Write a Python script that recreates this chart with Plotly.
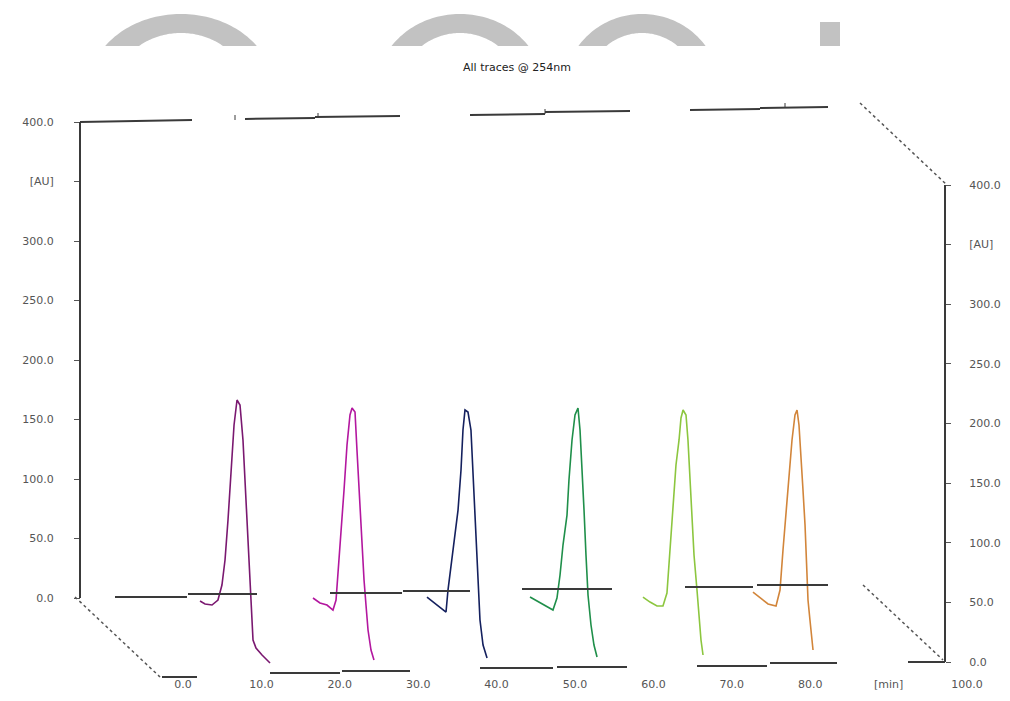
import numpy as np
import plotly.graph_objects as go

W, H = 1010, 701

# ---------------- data ----------------
run_names = ["Run 1", "Run 2", "Run 3", "Run 4", "Run 5", "Run 6"]

run1_time = [2.17, 2.81, 3.70, 4.46, 4.97, 5.36, 5.74, 6.12, 6.51, 6.89, 7.27, 7.65, 8.04, 8.29, 8.55, 8.80, 8.93, 9.31, 10.08, 11.10]
run1_au = [-2.5, -5.0, -5.9, -1.7, 10.9, 31.9, 65.5, 107.6, 145.4, 166.4, 162.2, 132.8, 82.4, 40.3, 6.7, -14.3, -35.3, -42.0, -47.9, -54.6]

run2_time = [16.58, 17.47, 18.37, 19.13, 19.52, 19.77, 20.15, 20.54, 20.92, 21.30, 21.56, 21.94, 22.19, 22.45, 22.83, 23.09, 23.34, 23.60, 23.98, 24.36]
run2_au = [0.0, -4.2, -5.9, -10.1, -1.7, 19.3, 57.1, 90.8, 128.6, 153.8, 159.7, 156.3, 124.4, 90.8, 48.7, 15.1, -5.9, -26.9, -43.7, -52.1]

run3_time = [31.12, 31.89, 32.78, 33.55, 33.80, 34.18, 34.57, 35.08, 35.46, 35.71, 35.97, 36.35, 36.73, 36.99, 37.24, 37.50, 37.76, 37.88, 38.27, 38.78]
run3_au = [0.8, -3.4, -8.4, -11.8, 6.7, 27.7, 48.7, 73.9, 107.6, 141.2, 158.0, 156.3, 141.2, 107.6, 65.5, 31.9, 6.7, -18.5, -39.5, -50.4]

run4_time = [44.26, 45.15, 46.17, 47.19, 47.70, 48.09, 48.47, 48.98, 49.23, 49.62, 50.00, 50.38, 50.64, 50.89, 51.15, 51.40, 51.66, 52.04, 52.42, 52.81]
run4_au = [0.8, -2.5, -6.7, -10.1, 0.0, 19.3, 44.5, 69.7, 99.2, 132.8, 153.8, 159.7, 141.2, 111.8, 73.9, 36.1, 2.5, -22.7, -39.5, -49.6]

run5_time = [58.67, 59.57, 60.46, 61.22, 61.73, 62.12, 62.50, 62.88, 63.27, 63.52, 63.78, 64.16, 64.41, 64.67, 64.92, 65.18, 65.56, 65.82, 66.07, 66.33]
run5_au = [0.8, -3.4, -6.7, -6.7, 4.2, 40.3, 82.4, 111.8, 132.8, 151.3, 158.0, 153.8, 132.8, 99.2, 65.5, 36.1, 6.7, -14.3, -35.3, -47.9]

run6_time = [72.70, 73.60, 74.62, 75.64, 76.15, 76.53, 76.91, 77.30, 77.68, 78.06, 78.32, 78.57, 78.83, 79.08, 79.34, 79.59, 79.72, 79.97, 80.23, 80.36]
run6_au = [5.0, 0.0, -5.0, -6.7, 6.7, 40.3, 69.7, 103.4, 132.8, 153.8, 158.0, 145.4, 120.2, 90.8, 61.3, 23.5, -1.7, -18.5, -35.3, -43.7]

x_tickvals = [0, 10, 20, 30, 40, 50, 60, 70, 80, 90, 100]
x_ticktext = ["0.0", "10.0", "20.0", "30.0", "40.0", "50.0", "60.0", "70.0", "80.0", "[min]", "100.0"]
y_tickvals = [0, 50, 100, 150, 200, 250, 300, 350, 400]
y_ticktext = ["0.0", "50.0", "100.0", "150.0", "200.0", "250.0", "300.0", "[AU]", "400.0"]

title_text = "All traces @ 254nm"

# ---------------- styling / layout ----------------
run_colors = ["#7a1870", "#b3179f", "#14205e", "#1f8f4a", "#8cc63f", "#d2853a"]
TXT = "#555555"
FONT = "DejaVu Sans"

# pixel scale of the axes (used only to set ranges)
X0_PX, X_PX_PER = 183.0, 7.84
Y0_PX, Y_PX_PER = 598.0, 1.19
Y2_0_PX, Y2_PX_PER = 662.0, 1.1925

def px(x, y):
    return x / W, 1 - y / H

fig = go.Figure()
runs = [(run1_time, run1_au), (run2_time, run2_au), (run3_time, run3_au),
        (run4_time, run4_au), (run5_time, run5_au), (run6_time, run6_au)]
for name, (t, a), c in zip(run_names, runs, run_colors):
    fig.add_trace(go.Scatter(x=t, y=a, mode="lines", name=name,
                             line=dict(color=c, width=1.6), showlegend=False,
                             cliponaxis=False))

# invisible trace to activate the right axis
fig.add_trace(go.Scatter(x=[None], y=[None], yaxis="y2", showlegend=False))

shapes = []
# frame edges (pseudo 3-D box), pixel positions
frame_solid = [
    [(80, 122), (192, 120)], [(245, 119), (315, 118)], [(315, 117), (400, 116)],
    [(470, 115), (545, 114)], [(545, 112), (630, 111)],
    [(690, 110), (760, 109)], [(760, 108), (828, 107)],
    [(115, 597), (187, 597)], [(188, 594), (257, 594)],
    [(330, 593), (402, 593)], [(403, 591), (470, 591)],
    [(522, 589), (612, 589)],
    [(685, 587), (753, 587)], [(757, 585), (828, 585)],
    [(162, 677), (197, 677)], [(270, 673), (340, 673)], [(342, 671), (410, 671)],
    [(480, 668), (553, 668)], [(557, 667), (627, 667)],
    [(697, 666), (767, 666)], [(770, 663), (837, 663)], [(908, 662), (945, 662)],
    [(80, 122), (80, 598)], [(945, 185), (945, 662)],
]
for (a, b) in frame_solid:
    x0, y0 = px(*a); x1, y1 = px(*b)
    shapes.append(dict(type="line", xref="paper", yref="paper", x0=x0, y0=y0, x1=x1, y1=y1,
                       line=dict(color="#3a3a3a", width=2)))
frame_dotted = [[(75, 597), (160, 677)], [(863, 585), (943, 660)], [(860, 103), (947, 185)]]
for (a, b) in frame_dotted:
    x0, y0 = px(*a); x1, y1 = px(*b)
    shapes.append(dict(type="line", xref="paper", yref="paper", x0=x0, y0=y0, x1=x1, y1=y1,
                       line=dict(color="#555555", width=1.5, dash="dot")))
# small marks on top edge
for (mx, my) in [(235, 119), (318, 117), (545, 113), (785, 107)]:
    x0, y0 = px(mx, my - 4); x1, y1 = px(mx, my + 1)
    shapes.append(dict(type="line", xref="paper", yref="paper", x0=x0, y0=y0, x1=x1, y1=y1,
                       line=dict(color="#3a3a3a", width=1)))

# grey watermark fragments at top
def arch(cx, cy, rxo, ryo, rxi, ryi, ycut):
    so = np.clip((cy - ycut) / ryo, -1, 1)
    si = np.clip((cy - ycut) / ryi, -1, 1)
    ao = np.arcsin(so); ai = np.arcsin(si)
    th_o = np.linspace(np.pi - ao, ao, 60)
    th_i = np.linspace(ai, np.pi - ai, 60)
    pts = [(cx + rxo * np.cos(t), cy - ryo * np.sin(t)) for t in th_o]
    pts += [(cx + rxi * np.cos(t), cy - ryi * np.sin(t)) for t in th_i]
    p = "M " + " L ".join("%.5f,%.5f" % px(x, y) for x, y in pts) + " Z"
    return p

for (cx, rxo, rxi) in [(181, 93, 66), (460, 84, 60), (642, 78, 56)]:
    shapes.append(dict(type="path", xref="paper", yref="paper",
                       path=arch(cx, 90, rxo, 76, rxi, 57, 46),
                       fillcolor="#c2c2c2", line=dict(width=0)))
bx0, by0 = px(820, 22); bx1, by1 = px(840, 46)
shapes.append(dict(type="rect", xref="paper", yref="paper", x0=bx0, y0=by1, x1=bx1, y1=by0,
                   fillcolor="#c2c2c2", line=dict(width=0)))

fig.update_layout(
    width=W, height=H,
    margin=dict(l=0, r=0, t=0, b=0, autoexpand=False),
    paper_bgcolor="white", plot_bgcolor="white",
    font=dict(family=FONT, size=11, color=TXT),
    title=dict(text=title_text, x=517 / W, xanchor="center", xref="paper",
               y=1 - 67 / H, yanchor="middle", yref="container",
               font=dict(family=FONT, size=11, color="#222222")),
    shapes=shapes,
    xaxis=dict(range=[(0 - X0_PX) / X_PX_PER, (W - X0_PX) / X_PX_PER],
               tickmode="array", tickvals=x_tickvals, ticktext=x_ticktext,
               showgrid=False, zeroline=False, showline=False, ticks="",
               anchor="free", position=1 - 676 / H, automargin=False,
               tickfont=dict(size=11, color=TXT)),
    yaxis=dict(range=[(Y0_PX - H) / Y_PX_PER, Y0_PX / Y_PX_PER],
               tickmode="array", tickvals=y_tickvals, ticktext=y_ticktext,
               showgrid=False, zeroline=False, showline=False,
               ticks="outside", ticklen=6, tickwidth=1, tickcolor="#555555",
               ticklabelstandoff=18,
               anchor="free", position=80 / W, automargin=False,
               tickfont=dict(size=11, color=TXT)),
    yaxis2=dict(range=[(Y2_0_PX - H) / Y2_PX_PER, Y2_0_PX / Y2_PX_PER],
                tickmode="array", tickvals=y_tickvals, ticktext=y_ticktext,
                showgrid=False, zeroline=False, showline=False,
                ticks="outside", ticklen=5, tickwidth=1, tickcolor="#555555",
                ticklabelstandoff=16,
                overlaying="y", side="right", anchor="free", position=945 / W,
                automargin=False, tickfont=dict(size=11, color=TXT)),
)

fig.write_html("out.html")
